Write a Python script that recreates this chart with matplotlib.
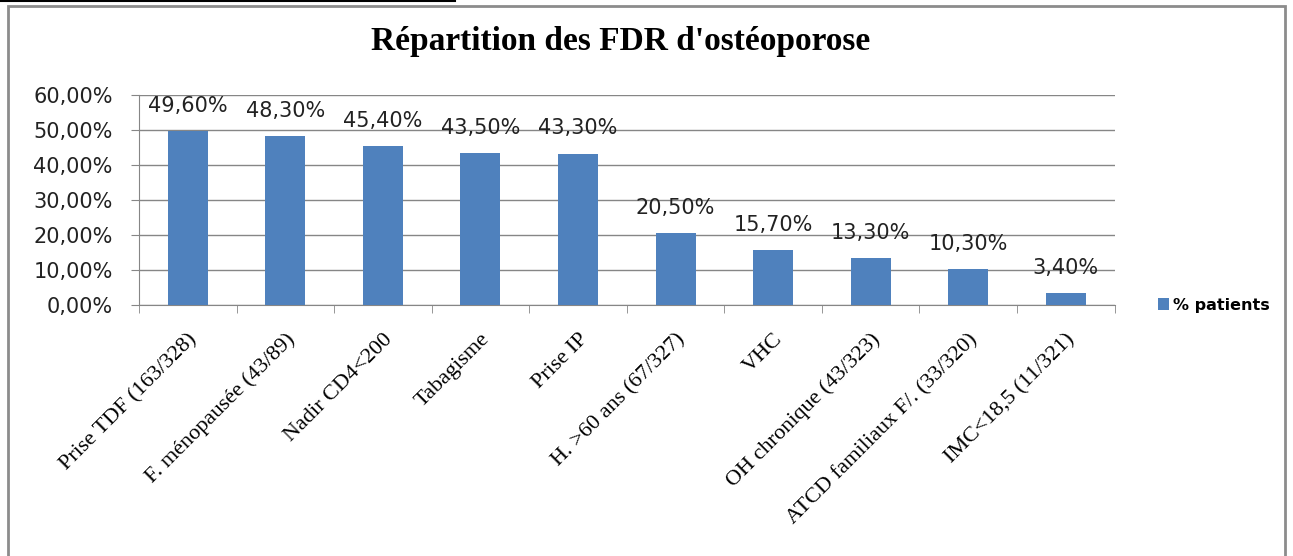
import matplotlib
matplotlib.use('Agg')
import matplotlib.pyplot as plt
from matplotlib.patches import Rectangle

# Data
categories = ['Prise TDF (163/328)', 'F. ménopausée (43/89)', 'Nadir CD4<200', 'Tabagisme',
              'Prise IP', 'H. >60 ans (67/327)', 'VHC', 'OH chronique (43/323)',
              'ATCD familiaux F/. (33/320)', 'IMC<18,5 (11/321)']
values = [49.6, 48.3, 45.4, 43.5, 43.3, 20.5, 15.7, 13.3, 10.3, 3.4]
yticks = [0, 10, 20, 30, 40, 50, 60]

bar_color = '#4F81BD'

fig = plt.figure(figsize=(12.93, 5.56), dpi=100)
ax = fig.add_axes([0.1075, 0.4514, 0.7545, 0.3776])

x = range(len(categories))
ax.bar(x, values, width=0.41, color=bar_color, zorder=3, label='% patients')

for i, v in zip(x, values):
    ax.annotate(('%.2f%%' % v).replace('.', ','), (i, v), xytext=(0, 11),
                textcoords='offset points', ha='center', va='bottom',
                fontsize=15, color='#222222', family='DejaVu Sans')

ax.set_xlim(-0.5, len(categories) - 0.5)
ax.set_ylim(0, 60)
ax.set_yticks(yticks)
ax.set_yticklabels([('%.2f%%' % t).replace('.', ',') for t in yticks],
                   fontsize=15, family='DejaVu Sans', color='#222222')
ax.yaxis.grid(True, color='#868686', linewidth=1, zorder=0)
ax.set_xticks([i - 0.5 for i in range(len(categories) + 1)], minor=True)
ax.set_xticks(list(x))
ax.set_xticklabels(categories, rotation=45, ha='right', rotation_mode='anchor',
                   fontsize=16, family='Liberation Serif')
ax.tick_params(axis='x', which='major', length=0, pad=18)
ax.tick_params(axis='x', which='minor', length=6, color='#868686')
ax.tick_params(axis='y', length=6, color='#868686', pad=13)

for s in ['top', 'right']:
    ax.spines[s].set_visible(False)
ax.spines['left'].set_color('#868686')
ax.spines['bottom'].set_color('#868686')

ax.legend(loc='center left', bbox_to_anchor=(1.03, 0.0), frameon=False,
          handlelength=0.7, handleheight=0.7, handletextpad=0.2,
          prop={'family': 'DejaVu Sans', 'size': 11.5, 'weight': 'semibold'})

fig.text(0.48, 0.925, "Répartition des FDR d'ostéoporose", ha='center', va='center',
         fontsize=24, fontweight='bold', family='Liberation Serif')

# chart frame
fig.patches.append(Rectangle((0.006, -0.02), 0.988, 1.01, transform=fig.transFigure,
                             fill=False, edgecolor='#8c8c8c', linewidth=2))
fig.lines.append(plt.Line2D([0, 0.352], [0.998, 0.998], transform=fig.transFigure,
                            color='black', linewidth=1.5))

fig.savefig('out.png', dpi=100)
